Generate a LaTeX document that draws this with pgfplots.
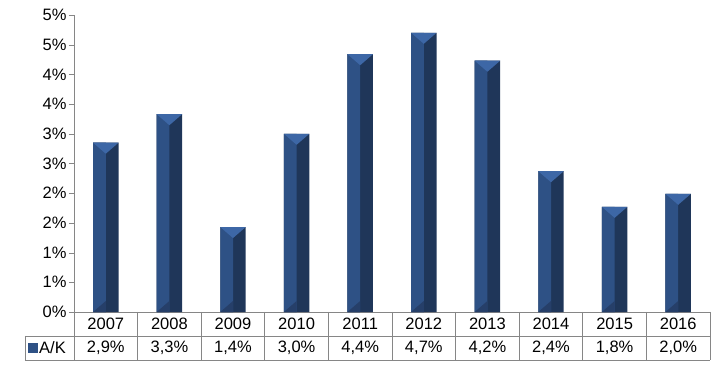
\documentclass[border=0pt]{standalone}
\usepackage{pgfplots}
\usepackage{pgfplotstable}
\pgfplotsset{compat=1.18}
\usepackage{fontspec}
\setmainfont{Liberation Sans}
\definecolor{barL}{HTML}{2E5185}
\definecolor{barR}{HTML}{1F3659}
\definecolor{barT}{HTML}{3D67A6}
\definecolor{barB}{HTML}{263F69}
\definecolor{gridc}{HTML}{868686}
\pgfdeclareplotmark{bevtop}{%
  \pgfpathmoveto{\pgfpoint{-12.72pt}{0pt}}%
  \pgfpathlineto{\pgfpoint{12.72pt}{0pt}}%
  \pgfpathlineto{\pgfpoint{0pt}{-11pt}}%
  \pgfpathclose\pgfusepathqfill}
\pgfdeclareplotmark{bevbot}{%
  \pgfpathmoveto{\pgfpoint{-12.72pt}{0pt}}%
  \pgfpathlineto{\pgfpoint{0pt}{11pt}}%
  \pgfpathlineto{\pgfpoint{0pt}{0pt}}%
  \pgfpathclose\pgfusepathqfill}
\pgfplotstableread{
x y b
0 2.85 0
1 3.33 0
2 1.43 0
3 3.00 0
4 4.34 0
5 4.70 0
6 4.23 0
7 2.37 0
8 1.77 0
9 1.99 0
}\datatab
\begin{document}
\begin{tikzpicture}[x=1pt,y=1pt]
\useasboundingbox (-74,-79) rectangle (652,312);
\begin{axis}[
  at={(0,0)}, anchor=south west, scale only axis,
  width=636pt, height=297pt,
  xmin=-0.5, xmax=9.5, ymin=0, ymax=5,
  axis y line=left, axis x line=bottom,
  axis line style={draw=gridc, -},
  xtick=\empty,
  ytick={0,0.5,1,1.5,2,2.5,3,3.5,4,4.5,5},
  yticklabels={0\%,1\%,1\%,2\%,2\%,3\%,3\%,4\%,4\%,5\%,5\%},
  tick align=outside, major tick length=5pt,
  tick style={draw=gridc},
  yticklabel style={font=\fontsize{16.5}{19}\selectfont, xshift=1pt},
  clip=false,
]
\addplot[ybar, bar width=0.4, bar shift=0, fill=barR, draw=none] table[x=x,y=y] {\datatab};
\addplot[ybar, bar width=0.2, bar shift=-0.1, fill=barL, draw=none] table[x=x,y=y] {\datatab};
\addplot[only marks, mark=bevtop, mark options={fill=barT, draw=none}] table[x=x,y=y] {\datatab};
\addplot[only marks, mark=bevbot, mark options={fill=barB, draw=none}] table[x=x,y=b] {\datatab};
\end{axis}
\draw[gridc, line width=0.8pt] (-49,-24) -- (636,-24) (-49,-48) -- (636,-48) (-49,-24) -- (-49,-48);
\foreach \i in {0,...,10} \draw[gridc, line width=0.8pt] ({63.6*\i},0) -- ({63.6*\i},-48);
\foreach \yr/\v [count=\i from 0] in {2007/{2,9\%},2008/{3,3\%},2009/{1,4\%},2010/{3,0\%},2011/{4,4\%},2012/{4,7\%},2013/{4,2\%},2014/{2,4\%},2015/{1,8\%},2016/{2,0\%}} {
  \node[font=\fontsize{16.5}{19}\selectfont] at ({63.6*\i+31.8},-12) {\yr};
  \node[font=\fontsize{16.5}{19}\selectfont] at ({63.6*\i+31.8},-36) {\v};
}
\fill[barL] (-46,-41) rectangle (-36,-31);
\node[font=\fontsize{16.5}{19}\selectfont, anchor=west, inner sep=0pt] at (-35,-36) {A/K};
\end{tikzpicture}
\end{document}
